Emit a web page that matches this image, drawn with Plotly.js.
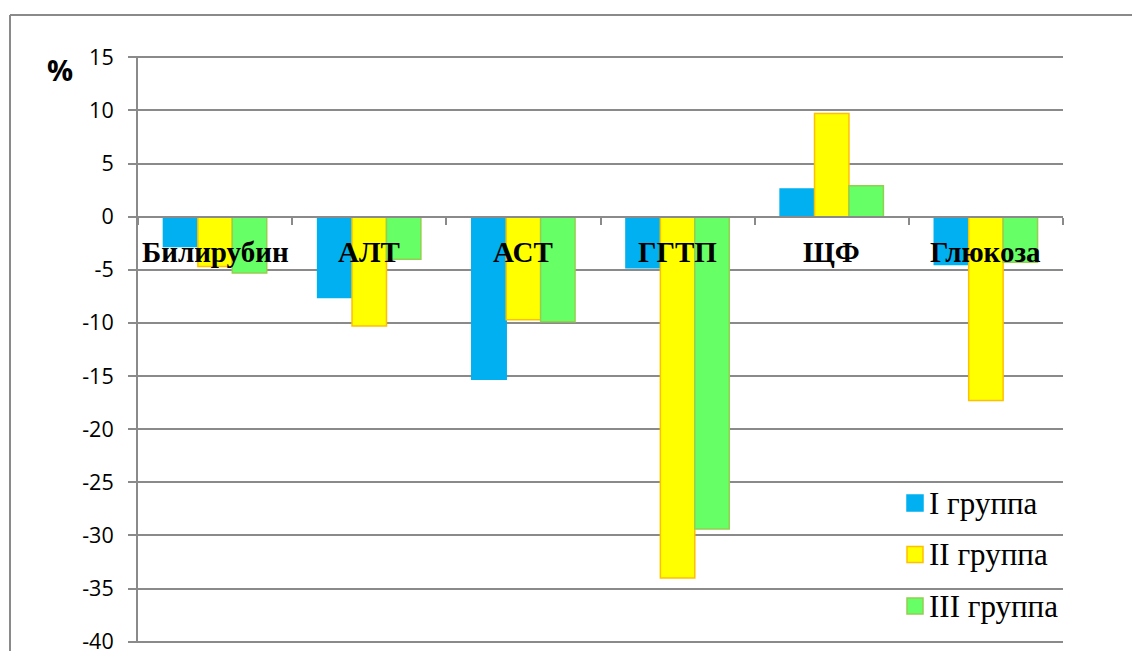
<!DOCTYPE html>
<html>
<head>
<meta charset="utf-8">
<script src="https://cdn.plot.ly/plotly-3.0.1.min.js"></script>
<style>
  html, body { margin: 0; padding: 0; background: #fff; }
  #chart { width: 1132px; height: 651px; }
</style>
</head>
<body>
<div id="chart"></div>
<script>
// Biochemical indicators, change in % by group
const categories = ['Билирубин', 'АЛТ', 'АСТ', 'ГГТП', 'ЩФ', 'Глюкоза'];
const seriesNames = ['I группа', 'II группа', 'III группа'];
const group1 = [-2.8, -7.6, -15.3, -4.8, 2.6, -4.5];
const group2 = [-4.7, -10.3, -9.7, -34.0, 9.7, -17.3];
const group3 = [-5.3, -4.0, -9.9, -29.4, 2.9, -4.3];
const yTicks = [15, 10, 5, 0, -5, -10, -15, -20, -25, -30, -35, -40];

const fills = ['#00B0F0', '#FFFF00', '#66FF66'];
const edges = ['#00B0F0', '#FFC000', '#92D050'];
const values = [group1, group2, group3];

const grey = '#8A8A8A';
const serif = '"Liberation Serif", "Times New Roman", Times, serif';

const traces = values.map((v, i) => ({
  type: 'bar',
  name: seriesNames[i],
  x: categories,
  y: v,
  marker: { color: fills[i], line: { color: edges[i], width: 1.5 } },
  hoverinfo: 'x+y+name'
}));

// Category labels sit just under the zero line, over the bars
const catLabels = categories.map(c => ({
  x: c, y: -3.35, xref: 'x', yref: 'y',
  text: '<b>' + c + '</b>', showarrow: false,
  font: { family: serif, size: 29, color: '#000' },
  xanchor: 'center', yanchor: 'middle'
}));

// Plot area geometry (a small range pad keeps the end gridlines visible)
const W = 1132, H = 651;
const L = 138, T = 56, PW = 925, PH = 587;
const yPad = 0.12;
const px = x => (x - L) / PW;
const py = y => 1 - (y - T) / PH;

// Hand-drawn legend in the lower right
const legendTop = 503, legendStep = 51.5;
const legendShapes = seriesNames.map((n, i) => ({
  type: 'rect', xref: 'paper', yref: 'paper',
  x0: px(907), x1: px(923),
  y0: py(legendTop + i * legendStep - 8),
  y1: py(legendTop + i * legendStep + 8),
  fillcolor: fills[i], line: { color: edges[i], width: 1.5 }
}));
const legendText = seriesNames.map((n, i) => ({
  xref: 'paper', yref: 'paper',
  x: px(927), y: py(legendTop + i * legendStep),
  text: n, showarrow: false, xanchor: 'left', yanchor: 'middle',
  font: { family: serif, size: 31, color: '#000' }
}));

const layout = {
  width: W, height: H,
  margin: { l: L, r: W - L - PW, t: T, b: H - T - PH, pad: 0 },
  paper_bgcolor: '#fff', plot_bgcolor: '#fff',
  showlegend: false,
  barmode: 'group', bargap: 0.33, bargroupgap: 0,
  xaxis: {
    type: 'category',
    anchor: 'free', position: (40 + yPad) / (55 + 2 * yPad),
    showline: true, linecolor: grey, linewidth: 2,
    ticks: 'outside', tickson: 'boundaries', ticklen: 7, tickcolor: grey, tickwidth: 1.5,
    showticklabels: false, showgrid: false, zeroline: false, fixedrange: true
  },
  yaxis: {
    range: [-40 - yPad, 15 + yPad], tickvals: yTicks, ticktext: yTicks.map(String),
    showgrid: true, gridcolor: grey, gridwidth: 2,
    zeroline: false,
    showline: true, linecolor: grey, linewidth: 2,
    ticks: 'outside', ticklen: 8, tickcolor: grey, tickwidth: 2,
    ticklabelstandoff: 10, ticklabeloverflow: 'allow',
    tickfont: { family: 'Open Sans, sans-serif', size: 21.5, color: '#000' },
    fixedrange: true
  },
  shapes: [
    // outer frame (top and left edges)
    { type: 'line', xref: 'paper', yref: 'paper',
      x0: px(10), x1: px(W + 5), y0: py(15), y1: py(15),
      line: { color: grey, width: 2 } },
    { type: 'line', xref: 'paper', yref: 'paper',
      x0: px(10), x1: px(10), y0: py(15), y1: py(H + 5),
      line: { color: grey, width: 2 } }
  ].concat(legendShapes),
  annotations: catLabels.concat(legendText).concat([{
    xref: 'paper', yref: 'paper',
    x: px(60), y: py(69),
    text: '<b>%</b>', showarrow: false, xanchor: 'center', yanchor: 'middle',
    font: { family: 'Open Sans, sans-serif', size: 29, color: '#000' }
  }])
};

Plotly.newPlot('chart', traces, layout, { displayModeBar: false });
</script>
</body>
</html>
